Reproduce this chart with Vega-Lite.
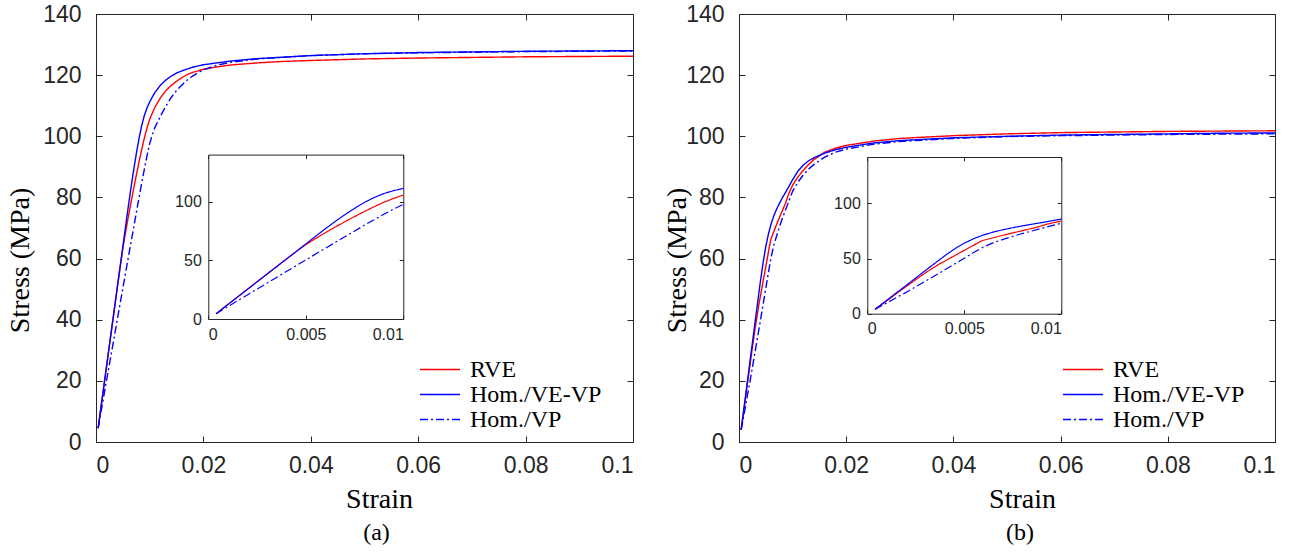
{
  "$schema": "https://vega.github.io/schema/vega-lite/v6.json",
  "padding": {"left": 5, "top": 2, "right": 5, "bottom": 5},
  "background": "white",
  "spacing": 106,
  "bounds": "flush",
  "config": {
    "view": {"stroke": "#262626", "strokeWidth": 1},
    "axis": {"grid": false, "domainColor": "#262626", "tickColor": "#262626", "labelColor": "#262626", "labelFont": "Liberation Sans", "labelFontSize": 23, "titleFont": "Liberation Serif", "titleFontSize": 28, "titleFontWeight": 400, "titleColor": "black", "tickWidth": 1, "domainWidth": 1},
    "style": {"guide-title": {"fontWeight": 400}},
    "legend": {"labelFont": "Liberation Serif", "labelFontSize": 24, "labelColor": "black"},
    "title": {"font": "Liberation Serif", "fontSize": 24, "fontWeight": 400, "color": "black"}
  },
  "resolve": {"scale": {"color": "independent", "strokeDash": "independent"}},
  "datasets": {
    "a": [
      {"series":"RVE","strain":0.0004,"stress":4.5},{"series":"RVE","strain":0.001,"stress":12.3},{"series":"RVE","strain":0.002,"stress":25.2},{"series":"RVE","strain":0.003,"stress":38.1},{"series":"RVE","strain":0.004,"stress":51},{"series":"RVE","strain":0.0045,"stress":57.3},{"series":"RVE","strain":0.005,"stress":63.3},{"series":"RVE","strain":0.0055,"stress":68.5},{"series":"RVE","strain":0.006,"stress":73.5},{"series":"RVE","strain":0.0065,"stress":78.2},{"series":"RVE","strain":0.007,"stress":82.8},{"series":"RVE","strain":0.0075,"stress":87.2},{"series":"RVE","strain":0.008,"stress":91.5},{"series":"RVE","strain":0.0085,"stress":95.6},{"series":"RVE","strain":0.009,"stress":99.4},{"series":"RVE","strain":0.0095,"stress":102.7},{"series":"RVE","strain":0.01,"stress":105.6},{"series":"RVE","strain":0.011,"stress":109.6},{"series":"RVE","strain":0.012,"stress":112.6},{"series":"RVE","strain":0.013,"stress":114.9},{"series":"RVE","strain":0.014,"stress":116.6},{"series":"RVE","strain":0.015,"stress":118},{"series":"RVE","strain":0.016,"stress":119.2},{"series":"RVE","strain":0.017,"stress":120.2},{"series":"RVE","strain":0.018,"stress":120.9},{"series":"RVE","strain":0.02,"stress":121.9},{"series":"RVE","strain":0.0225,"stress":122.7},{"series":"RVE","strain":0.025,"stress":123.3},{"series":"RVE","strain":0.03,"stress":124},{"series":"RVE","strain":0.035,"stress":124.5},{"series":"RVE","strain":0.04,"stress":124.8},{"series":"RVE","strain":0.05,"stress":125.3},{"series":"RVE","strain":0.06,"stress":125.6},{"series":"RVE","strain":0.07,"stress":125.8},{"series":"RVE","strain":0.08,"stress":126},{"series":"RVE","strain":0.09,"stress":126.1},{"series":"RVE","strain":0.1,"stress":126.2},
      {"series":"Hom./VE-VP","strain":0.0004,"stress":4.5},{"series":"Hom./VE-VP","strain":0.001,"stress":12.3},{"series":"Hom./VE-VP","strain":0.002,"stress":25.2},{"series":"Hom./VE-VP","strain":0.003,"stress":38.1},{"series":"Hom./VE-VP","strain":0.004,"stress":51},{"series":"Hom./VE-VP","strain":0.0045,"stress":57.4},{"series":"Hom./VE-VP","strain":0.005,"stress":63.9},{"series":"Hom./VE-VP","strain":0.0055,"stress":70.4},{"series":"Hom./VE-VP","strain":0.006,"stress":76.8},{"series":"Hom./VE-VP","strain":0.0065,"stress":83},{"series":"Hom./VE-VP","strain":0.007,"stress":88.8},{"series":"Hom./VE-VP","strain":0.0075,"stress":94.2},{"series":"Hom./VE-VP","strain":0.008,"stress":99.2},{"series":"Hom./VE-VP","strain":0.0085,"stress":103.4},{"series":"Hom./VE-VP","strain":0.009,"stress":106.8},{"series":"Hom./VE-VP","strain":0.0095,"stress":109.3},{"series":"Hom./VE-VP","strain":0.01,"stress":111.2},{"series":"Hom./VE-VP","strain":0.0105,"stress":112.9},{"series":"Hom./VE-VP","strain":0.011,"stress":114.4},{"series":"Hom./VE-VP","strain":0.012,"stress":116.7},{"series":"Hom./VE-VP","strain":0.013,"stress":118.4},{"series":"Hom./VE-VP","strain":0.014,"stress":119.7},{"series":"Hom./VE-VP","strain":0.015,"stress":120.7},{"series":"Hom./VE-VP","strain":0.016,"stress":121.4},{"series":"Hom./VE-VP","strain":0.018,"stress":122.6},{"series":"Hom./VE-VP","strain":0.02,"stress":123.4},{"series":"Hom./VE-VP","strain":0.025,"stress":124.6},{"series":"Hom./VE-VP","strain":0.03,"stress":125.4},{"series":"Hom./VE-VP","strain":0.04,"stress":126.4},{"series":"Hom./VE-VP","strain":0.05,"stress":127},{"series":"Hom./VE-VP","strain":0.06,"stress":127.4},{"series":"Hom./VE-VP","strain":0.07,"stress":127.6},{"series":"Hom./VE-VP","strain":0.08,"stress":127.8},{"series":"Hom./VE-VP","strain":0.09,"stress":127.9},{"series":"Hom./VE-VP","strain":0.1,"stress":128},
      {"series":"Hom./VP","strain":0.0004,"stress":4.5},{"series":"Hom./VP","strain":0.001,"stress":10.5},{"series":"Hom./VP","strain":0.002,"stress":20.5},{"series":"Hom./VP","strain":0.003,"stress":30.4},{"series":"Hom./VP","strain":0.004,"stress":40.4},{"series":"Hom./VP","strain":0.005,"stress":50.3},{"series":"Hom./VP","strain":0.006,"stress":60.2},{"series":"Hom./VP","strain":0.007,"stress":70},{"series":"Hom./VP","strain":0.008,"stress":79.8},{"series":"Hom./VP","strain":0.0085,"stress":84.6},{"series":"Hom./VP","strain":0.009,"stress":89.2},{"series":"Hom./VP","strain":0.0095,"stress":93.6},{"series":"Hom./VP","strain":0.01,"stress":97.6},{"series":"Hom./VP","strain":0.0105,"stress":100.6},{"series":"Hom./VP","strain":0.011,"stress":103},{"series":"Hom./VP","strain":0.012,"stress":106.6},{"series":"Hom./VP","strain":0.013,"stress":109.8},{"series":"Hom./VP","strain":0.014,"stress":112.7},{"series":"Hom./VP","strain":0.015,"stress":115},{"series":"Hom./VP","strain":0.016,"stress":116.8},{"series":"Hom./VP","strain":0.017,"stress":118.4},{"series":"Hom./VP","strain":0.018,"stress":119.7},{"series":"Hom./VP","strain":0.019,"stress":120.8},{"series":"Hom./VP","strain":0.02,"stress":121.7},{"series":"Hom./VP","strain":0.022,"stress":123},{"series":"Hom./VP","strain":0.025,"stress":124.2},{"series":"Hom./VP","strain":0.03,"stress":125.3},{"series":"Hom./VP","strain":0.04,"stress":126.4},{"series":"Hom./VP","strain":0.05,"stress":127},{"series":"Hom./VP","strain":0.06,"stress":127.3},{"series":"Hom./VP","strain":0.07,"stress":127.5},{"series":"Hom./VP","strain":0.08,"stress":127.7},{"series":"Hom./VP","strain":0.09,"stress":127.8},{"series":"Hom./VP","strain":0.1,"stress":127.9}
    ],
    "b": [
      {"series":"RVE","strain":0.0004,"stress":4},{"series":"RVE","strain":0.001,"stress":11.6},{"series":"RVE","strain":0.0015,"stress":18.2},{"series":"RVE","strain":0.002,"stress":24.6},{"series":"RVE","strain":0.0025,"stress":30.9},{"series":"RVE","strain":0.003,"stress":37.1},{"series":"RVE","strain":0.0037,"stress":44.9},{"series":"RVE","strain":0.0047,"stress":54.5},{"series":"RVE","strain":0.0059,"stress":66.1},{"series":"RVE","strain":0.0066,"stress":69.3},{"series":"RVE","strain":0.0073,"stress":72.4},{"series":"RVE","strain":0.008,"stress":75.3},{"series":"RVE","strain":0.0087,"stress":78.2},{"series":"RVE","strain":0.0093,"stress":81.3},{"series":"RVE","strain":0.01,"stress":84},{"series":"RVE","strain":0.011,"stress":86.7},{"series":"RVE","strain":0.012,"stress":88.9},{"series":"RVE","strain":0.013,"stress":90.8},{"series":"RVE","strain":0.014,"stress":92.4},{"series":"RVE","strain":0.016,"stress":94.8},{"series":"RVE","strain":0.018,"stress":96.1},{"series":"RVE","strain":0.02,"stress":97},{"series":"RVE","strain":0.025,"stress":98.4},{"series":"RVE","strain":0.03,"stress":99.3},{"series":"RVE","strain":0.04,"stress":100.2},{"series":"RVE","strain":0.05,"stress":100.8},{"series":"RVE","strain":0.06,"stress":101.2},{"series":"RVE","strain":0.07,"stress":101.4},{"series":"RVE","strain":0.08,"stress":101.6},{"series":"RVE","strain":0.09,"stress":101.7},{"series":"RVE","strain":0.1,"stress":101.8},
      {"series":"Hom./VE-VP","strain":0.0004,"stress":4},{"series":"Hom./VE-VP","strain":0.001,"stress":12.1},{"series":"Hom./VE-VP","strain":0.0015,"stress":18.9},{"series":"Hom./VE-VP","strain":0.002,"stress":25.6},{"series":"Hom./VE-VP","strain":0.0025,"stress":32.4},{"series":"Hom./VE-VP","strain":0.003,"stress":39.2},{"series":"Hom./VE-VP","strain":0.0035,"stress":45.9},{"series":"Hom./VE-VP","strain":0.004,"stress":52.6},{"series":"Hom./VE-VP","strain":0.0045,"stress":58.7},{"series":"Hom./VE-VP","strain":0.005,"stress":63.9},{"series":"Hom./VE-VP","strain":0.0055,"stress":68.1},{"series":"Hom./VE-VP","strain":0.006,"stress":71.4},{"series":"Hom./VE-VP","strain":0.0065,"stress":74},{"series":"Hom./VE-VP","strain":0.007,"stress":76.1},{"series":"Hom./VE-VP","strain":0.0075,"stress":77.9},{"series":"Hom./VE-VP","strain":0.008,"stress":79.6},{"series":"Hom./VE-VP","strain":0.0085,"stress":81.1},{"series":"Hom./VE-VP","strain":0.009,"stress":82.6},{"series":"Hom./VE-VP","strain":0.0095,"stress":84.2},{"series":"Hom./VE-VP","strain":0.01,"stress":85.8},{"series":"Hom./VE-VP","strain":0.011,"stress":88.6},{"series":"Hom./VE-VP","strain":0.012,"stress":90.6},{"series":"Hom./VE-VP","strain":0.013,"stress":92},{"series":"Hom./VE-VP","strain":0.014,"stress":93},{"series":"Hom./VE-VP","strain":0.016,"stress":94.5},{"series":"Hom./VE-VP","strain":0.018,"stress":95.6},{"series":"Hom./VE-VP","strain":0.02,"stress":96.4},{"series":"Hom./VE-VP","strain":0.025,"stress":97.8},{"series":"Hom./VE-VP","strain":0.03,"stress":98.6},{"series":"Hom./VE-VP","strain":0.04,"stress":99.5},{"series":"Hom./VE-VP","strain":0.05,"stress":100},{"series":"Hom./VE-VP","strain":0.06,"stress":100.4},{"series":"Hom./VE-VP","strain":0.07,"stress":100.6},{"series":"Hom./VE-VP","strain":0.08,"stress":100.8},{"series":"Hom./VE-VP","strain":0.09,"stress":101},{"series":"Hom./VE-VP","strain":0.1,"stress":101.1},
      {"series":"Hom./VP","strain":0.0004,"stress":4},{"series":"Hom./VP","strain":0.001,"stress":9.7},{"series":"Hom./VP","strain":0.0015,"stress":14.6},{"series":"Hom./VP","strain":0.002,"stress":19.3},{"series":"Hom./VP","strain":0.003,"stress":29.5},{"series":"Hom./VP","strain":0.004,"stress":39.8},{"series":"Hom./VP","strain":0.005,"stress":50.3},{"series":"Hom./VP","strain":0.0055,"stress":55.6},{"series":"Hom./VP","strain":0.006,"stress":60.5},{"series":"Hom./VP","strain":0.0065,"stress":64.4},{"series":"Hom./VP","strain":0.007,"stress":67.3},{"series":"Hom./VP","strain":0.0075,"stress":70.1},{"series":"Hom./VP","strain":0.008,"stress":72.7},{"series":"Hom./VP","strain":0.009,"stress":77.4},{"series":"Hom./VP","strain":0.01,"stress":82},{"series":"Hom./VP","strain":0.011,"stress":85},{"series":"Hom./VP","strain":0.012,"stress":87.4},{"series":"Hom./VP","strain":0.013,"stress":89.3},{"series":"Hom./VP","strain":0.014,"stress":90.8},{"series":"Hom./VP","strain":0.016,"stress":93.2},{"series":"Hom./VP","strain":0.018,"stress":94.8},{"series":"Hom./VP","strain":0.02,"stress":95.8},{"series":"Hom./VP","strain":0.025,"stress":97.4},{"series":"Hom./VP","strain":0.03,"stress":98.3},{"series":"Hom./VP","strain":0.04,"stress":99.3},{"series":"Hom./VP","strain":0.05,"stress":99.9},{"series":"Hom./VP","strain":0.06,"stress":100.2},{"series":"Hom./VP","strain":0.07,"stress":100.4},{"series":"Hom./VP","strain":0.08,"stress":100.6},{"series":"Hom./VP","strain":0.09,"stress":100.7},{"series":"Hom./VP","strain":0.1,"stress":100.8}
    ]
  },
  "hconcat": [
    {
      "width": 537, "height": 428,
      "data": {"name": "a"},
      "title": {"text": "(a)", "orient": "bottom", "offset": 8, "anchor": "middle", "dx": 12},
      "resolve": {"scale": {"x": "independent", "y": "independent"}},
      "layer": [
        {
          "mark": {"type": "line", "strokeWidth": 1.4},
          "encoding": {
            "x": {"field": "strain", "type": "quantitative", "scale": {"domain": [0, 0.1], "nice": false},
                  "axis": {"orient": "bottom", "values": [0, 0.02, 0.04, 0.06, 0.08, 0.1], "format": "~g", "title": "Strain", "titleFontWeight": 400, "tickSize": -6, "labelPadding": 18, "titleX": 283, "titleY": 65, "titleBaseline": "alphabetic"}},
            "y": {"field": "stress", "type": "quantitative", "scale": {"domain": [0, 140], "nice": false},
                  "axis": {"orient": "left", "values": [0, 20, 40, 60, 80, 100, 120, 140], "title": "Stress (MPa)", "titleFontWeight": 400, "tickSize": -6, "labelPadding": 21, "titleX": -67.6, "titleY": 246, "titleBaseline": "alphabetic"}},
            "color": {"field": "series", "type": "nominal", "scale": {"domain": ["RVE", "Hom./VE-VP", "Hom./VP"], "range": ["#ff0000", "#0000ff", "#0000ff"]},
                      "legend": {"title": null, "orient": "none", "legendX": 323, "legendY": 343, "symbolType": "stroke", "symbolSize": 1600, "symbolStrokeWidth": 1.5, "labelOffset": 9, "clipHeight": 25, "rowPadding": 0, "labelLimit": 300}},
            "strokeDash": {"field": "series", "type": "nominal", "scale": {"domain": ["RVE", "Hom./VE-VP", "Hom./VP"], "range": [[1, 0], [1, 0], [8, 3, 2, 3]]},
                      "legend": {"title": null, "orient": "none", "legendX": 323, "legendY": 343, "symbolType": "stroke", "symbolSize": 1600, "symbolStrokeWidth": 1.5, "labelOffset": 9, "clipHeight": 25, "rowPadding": 0, "labelLimit": 300}}
          }
        },
        {
          "mark": {"type": "line", "opacity": 0},
          "encoding": {
            "x": {"field": "strain", "type": "quantitative", "scale": {"domain": [0, 0.1], "nice": false},
                  "axis": {"orient": "top", "values": [0, 0.02, 0.04, 0.06, 0.08, 0.1], "labels": false, "title": null, "tickSize": -6, "domain": false}},
            "y": {"field": "stress", "type": "quantitative", "scale": {"domain": [0, 140], "nice": false},
                  "axis": {"orient": "right", "values": [0, 20, 40, 60, 80, 100, 120, 140], "labels": false, "title": null, "tickSize": -6, "domain": false}}
          }
        },
        {
          "transform": [{"filter": "datum.strain <= 0.0101"}],
          "mark": {"type": "line", "strokeWidth": 1.2},
          "encoding": {
            "x": {"field": "strain", "type": "quantitative", "scale": {"domain": [0, 0.01], "range": [112.3, 307.3], "nice": false},
                  "axis": {"orient": "bottom", "offset": -123, "values": [0, 0.005, 0.01], "format": "~g", "title": null, "tickSize": -4, "labelPadding": 11, "labelFontSize": 16}},
            "y": {"field": "stress", "type": "quantitative", "scale": {"domain": [0, 140], "range": [305, 140.6], "nice": false},
                  "axis": {"orient": "left", "offset": -112.3, "values": [0, 50, 100], "title": null, "tickSize": -4, "labelPadding": 11, "labelFontSize": 16}},
            "color": {"field": "series", "type": "nominal"},
            "strokeDash": {"field": "series", "type": "nominal"}
          }
        },
        {
          "transform": [{"filter": "datum.strain <= 0.0101"}],
          "mark": {"type": "line", "opacity": 0},
          "encoding": {
            "x": {"field": "strain", "type": "quantitative", "scale": {"domain": [0, 0.01], "range": [112.3, 307.3], "nice": false},
                  "axis": {"orient": "top", "offset": -140.6, "values": [0, 0.005, 0.01], "labels": false, "title": null, "tickSize": -4}},
            "y": {"field": "stress", "type": "quantitative", "scale": {"domain": [0, 140], "range": [305, 140.6], "nice": false},
                  "axis": {"orient": "right", "offset": -229.7, "values": [0, 50, 100], "labels": false, "title": null, "tickSize": -4}}
          }
        }
      ]
    },
    {
      "width": 536, "height": 428,
      "data": {"name": "b"},
      "title": {"text": "(b)", "orient": "bottom", "offset": 8, "anchor": "middle", "dx": 13},
      "resolve": {"scale": {"x": "independent", "y": "independent"}},
      "layer": [
        {
          "mark": {"type": "line", "strokeWidth": 1.4},
          "encoding": {
            "x": {"field": "strain", "type": "quantitative", "scale": {"domain": [0, 0.1], "nice": false},
                  "axis": {"orient": "bottom", "values": [0, 0.02, 0.04, 0.06, 0.08, 0.1], "format": "~g", "title": "Strain", "titleFontWeight": 400, "tickSize": -6, "labelPadding": 18, "titleX": 283, "titleY": 65, "titleBaseline": "alphabetic"}},
            "y": {"field": "stress", "type": "quantitative", "scale": {"domain": [0, 140], "nice": false},
                  "axis": {"orient": "left", "values": [0, 20, 40, 60, 80, 100, 120, 140], "title": "Stress (MPa)", "titleFontWeight": 400, "tickSize": -6, "labelPadding": 21, "titleX": -53.6, "titleY": 246, "titleBaseline": "alphabetic"}},
            "color": {"field": "series", "type": "nominal", "scale": {"domain": ["RVE", "Hom./VE-VP", "Hom./VP"], "range": ["#ff0000", "#0000ff", "#0000ff"]},
                      "legend": {"title": null, "orient": "none", "legendX": 323, "legendY": 343, "symbolType": "stroke", "symbolSize": 1600, "symbolStrokeWidth": 1.5, "labelOffset": 9, "clipHeight": 25, "rowPadding": 0, "labelLimit": 300}},
            "strokeDash": {"field": "series", "type": "nominal", "scale": {"domain": ["RVE", "Hom./VE-VP", "Hom./VP"], "range": [[1, 0], [1, 0], [8, 3, 2, 3]]},
                      "legend": {"title": null, "orient": "none", "legendX": 323, "legendY": 343, "symbolType": "stroke", "symbolSize": 1600, "symbolStrokeWidth": 1.5, "labelOffset": 9, "clipHeight": 25, "rowPadding": 0, "labelLimit": 300}}
          }
        },
        {
          "mark": {"type": "line", "opacity": 0},
          "encoding": {
            "x": {"field": "strain", "type": "quantitative", "scale": {"domain": [0, 0.1], "nice": false},
                  "axis": {"orient": "top", "values": [0, 0.02, 0.04, 0.06, 0.08, 0.1], "labels": false, "title": null, "tickSize": -6, "domain": false}},
            "y": {"field": "stress", "type": "quantitative", "scale": {"domain": [0, 140], "nice": false},
                  "axis": {"orient": "right", "values": [0, 20, 40, 60, 80, 100, 120, 140], "labels": false, "title": null, "tickSize": -6, "domain": false}}
          }
        },
        {
          "transform": [{"filter": "datum.strain <= 0.0101"}],
          "mark": {"type": "line", "strokeWidth": 1.2},
          "encoding": {
            "x": {"field": "strain", "type": "quantitative", "scale": {"domain": [0, 0.01], "range": [128.3, 322.3], "nice": false},
                  "axis": {"orient": "bottom", "offset": -128.3, "values": [0, 0.005, 0.01], "format": "~g", "title": null, "tickSize": -4, "labelPadding": 11, "labelFontSize": 16}},
            "y": {"field": "stress", "type": "quantitative", "scale": {"domain": [0, 142], "range": [299.7, 143], "nice": false},
                  "axis": {"orient": "left", "offset": -128.3, "values": [0, 50, 100], "title": null, "tickSize": -4, "labelPadding": 11, "labelFontSize": 16}},
            "color": {"field": "series", "type": "nominal"},
            "strokeDash": {"field": "series", "type": "nominal"}
          }
        },
        {
          "transform": [{"filter": "datum.strain <= 0.0101"}],
          "mark": {"type": "line", "opacity": 0},
          "encoding": {
            "x": {"field": "strain", "type": "quantitative", "scale": {"domain": [0, 0.01], "range": [128.3, 322.3], "nice": false},
                  "axis": {"orient": "top", "offset": -143, "values": [0, 0.005, 0.01], "labels": false, "title": null, "tickSize": -4}},
            "y": {"field": "stress", "type": "quantitative", "scale": {"domain": [0, 142], "range": [299.7, 143], "nice": false},
                  "axis": {"orient": "right", "offset": -213.7, "values": [0, 50, 100], "labels": false, "title": null, "tickSize": -4}}
          }
        }
      ]
    }
  ]
}
